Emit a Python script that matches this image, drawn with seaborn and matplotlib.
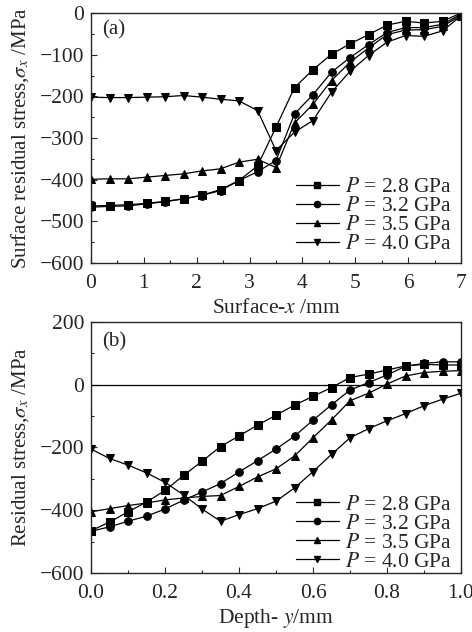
import numpy as np
import pandas as pd
import seaborn as sns
import matplotlib
matplotlib.use("Agg")
from matplotlib import pyplot as plt
from matplotlib.ticker import MultipleLocator, FormatStrFormatter

# pressures / labels
pressures = ["2.8", "3.2", "3.5", "4.0"]
markers = ["s", "o", "^", "v"]

# (a) surface, x in mm
surf_x = [0, 0.35, 0.7, 1.05, 1.4, 1.75, 2.1, 2.45, 2.8, 3.15, 3.5,
          3.85, 4.2, 4.55, 4.9, 5.25, 5.6, 5.95, 6.3, 6.65, 7.0]
surf_28 = [-463, -462, -460, -457, -452, -446, -437, -424, -402, -367, -274,
           -179, -136, -99, -74, -52, -29, -20, -24, -20, 0]
surf_32 = [-466, -464, -463, -458, -453, -446, -438, -426, -402, -381, -354,
           -242, -196, -142, -107, -76, -47, -35, -35, -27, -3]
surf_35 = [-399, -398, -398, -394, -390, -386, -379, -374, -358, -351, -371,
           -264, -219, -162, -118, -84, -52, -41, -40, -32, -6]
surf_40 = [-202, -203, -203, -202, -201, -198, -202, -207, -211, -234, -330,
           -286, -258, -190, -140, -102, -70, -54, -56, -43, -7]

# (b) depth, y in mm
depth_y = [0, 0.05, 0.1, 0.15, 0.2, 0.25, 0.3, 0.35, 0.4, 0.45, 0.5,
           0.55, 0.6, 0.65, 0.7, 0.75, 0.8, 0.85, 0.9, 0.95, 1.0]
depth_28 = [-465, -438, -405, -374, -337, -289, -244, -197, -163, -129, -97,
            -65, -37, -9, 23, 34, 47, 60, 65, 63, 63]
depth_32 = [-467, -453, -435, -419, -396, -368, -342, -315, -278, -242, -205,
            -164, -113, -64, -17, 7, 31, 59, 68, 73, 73]
depth_35 = [-405, -395, -385, -377, -367, -361, -356, -353, -324, -294, -268,
            -227, -169, -112, -51, -27, 2, 28, 39, 43, 45]
depth_40 = [-205, -235, -256, -281, -311, -351, -396, -435, -414, -395, -371,
            -329, -277, -222, -169, -140, -115, -92, -67, -46, -27]


def long_df(xs, series):
    rows = []
    for p, ys in zip(pressures, series):
        for x, y in zip(xs, ys):
            rows.append({"x": x, "y": y, "P": p})
    return pd.DataFrame(rows)


df_a = long_df(surf_x, [surf_28, surf_32, surf_35, surf_40])
df_b = long_df(depth_y, [depth_28, depth_32, depth_35, depth_40])

sns.set_style("ticks")
plt.rcParams["font.family"] = ["Liberation Serif", "DejaVu Serif"]
plt.rcParams["mathtext.fontset"] = "stix"
plt.rcParams["font.size"] = 15

fig = plt.figure(figsize=(4.72, 6.32), dpi=100)
ax1 = fig.add_axes([91 / 472, 1 - 263 / 632, 370 / 472, 250 / 632])
ax2 = fig.add_axes([91 / 472, 1 - 573 / 632, 370 / 472, 251 / 632])


def draw(ax, df, leg_y):
    sns.lineplot(data=df, x="x", y="y", style="P", markers=markers,
                 dashes=False, color="black", linewidth=0.9,
                 markersize=5.5, markeredgecolor="black", ax=ax,
                 legend=False)
    handles = [plt.Line2D([], [], color="black", marker=m, markersize=4.5,
                          linewidth=0.9) for m in markers]
    labels = [f"$P$ = {p} GPa" for p in pressures]
    ax.legend(handles, labels, loc="lower right", frameon=False,
              bbox_to_anchor=(1.0, leg_y),
              handlelength=2.0, handletextpad=0.3, labelspacing=-0.05,
              borderaxespad=0.0, fontsize=15.5)
    for s in ax.spines.values():
        s.set_linewidth(1.0)
        s.set_visible(True)
    ax.tick_params(which="both", direction="in", top=False, right=False,
                   labelsize=15.5, width=0.8)
    ax.tick_params(axis="x", which="both", pad=8)
    ax.tick_params(axis="y", which="both", pad=5)
    ax.tick_params(which="major", length=4)
    ax.tick_params(which="minor", length=2.5)


draw(ax1, df_a, 0.0)
ax1.set_xlim(0, 7)
ax1.set_ylim(-600, 0)
ax1.xaxis.set_major_locator(MultipleLocator(1))
ax1.xaxis.set_minor_locator(MultipleLocator(0.5))
ax1.yaxis.set_major_locator(MultipleLocator(100))
ax1.yaxis.set_minor_locator(MultipleLocator(50))
ax1.set_xlabel("Surface-$x$ /mm", fontsize=15.5, labelpad=4)
ax1.set_ylabel("Surface residual stress,$\\sigma_x$ /MPa", fontsize=15,
               labelpad=6)
ax1.text(0.03, 0.97, "(a)", transform=ax1.transAxes, fontsize=15,
         va="top")

draw(ax2, df_b, -0.03)
ax2.axhline(0, color="black", linewidth=0.9)
ax2.set_xlim(0, 1)
ax2.set_ylim(-600, 200)
ax2.xaxis.set_major_locator(MultipleLocator(0.2))
ax2.xaxis.set_minor_locator(MultipleLocator(0.1))
ax2.yaxis.set_major_locator(MultipleLocator(200))
ax2.yaxis.set_minor_locator(MultipleLocator(100))
ax2.xaxis.set_major_formatter(FormatStrFormatter("%.1f"))
ax2.set_xlabel("Depth- $y$/mm", fontsize=15.5, labelpad=3)
ax2.set_ylabel("Residual stress,$\\sigma_x$ /MPa", fontsize=15, labelpad=6)
ax2.text(0.03, 0.96, "(b)", transform=ax2.transAxes, fontsize=15,
         va="top")

fig.savefig("out.png", dpi=100)
